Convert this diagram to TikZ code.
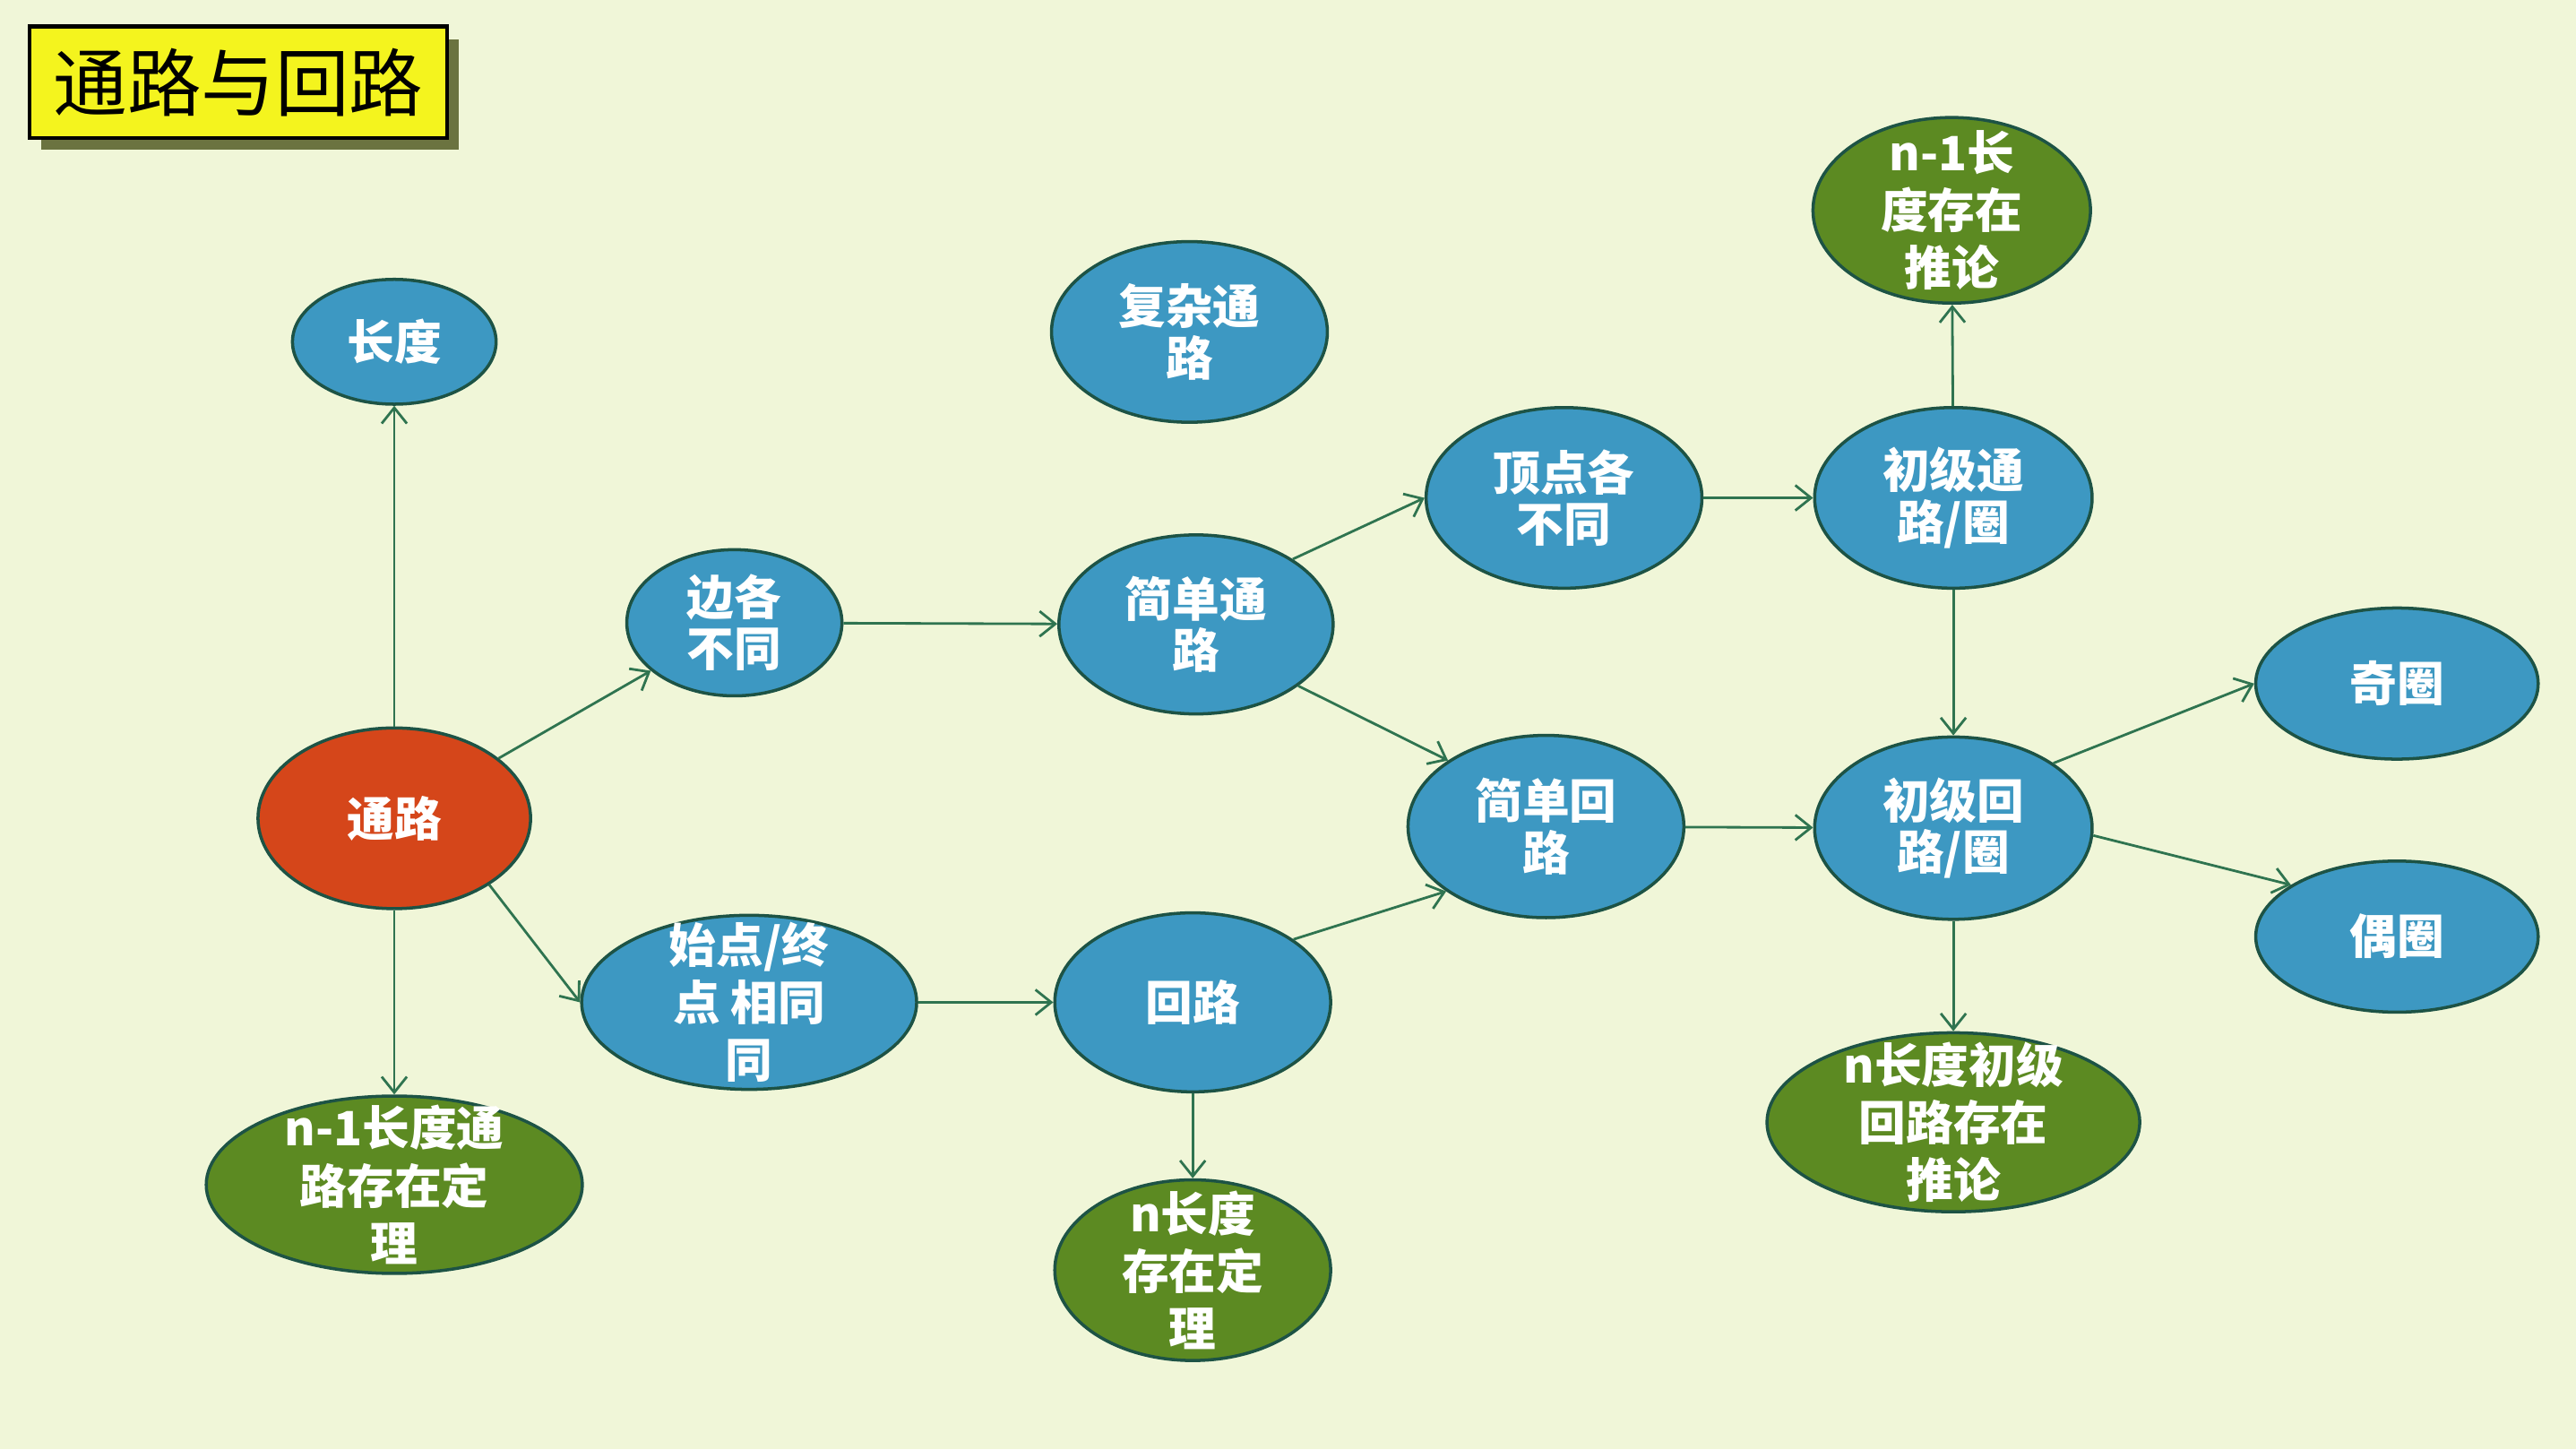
\documentclass[tikz,border=0pt]{standalone}
\usepackage{fontspec}
\newfontfamily\cjk{Noto Sans CJK SC}
\usetikzlibrary{shapes.geometric,arrows.meta}
\definecolor{bgc}{HTML}{F0F6D8}
\definecolor{bluec}{HTML}{3D98C2}
\definecolor{greenc}{HTML}{5C8A22}
\definecolor{orangec}{HTML}{D5461A}
\definecolor{linec}{HTML}{1D5345}
\definecolor{arrc}{HTML}{2F7450}
\definecolor{titley}{HTML}{F4F41E}
\definecolor{titles}{HTML}{6B7340}
\begin{document}
\begin{tikzpicture}[x=0.018335cm,y=-0.018335cm,
  nd/.style={ellipse, draw=linec, line width=1pt, inner sep=0pt},
  el/.style 2 args={minimum width=#1*0.5216pt, minimum height=#2*0.5216pt},
  bluen/.style={nd, fill=bluec},
  greenn/.style={nd, fill=greenc},
  orangen/.style={nd, fill=orangec},
  txt/.style={text=white, font=\cjk\bfseries\fontsize{15}{16.3}\selectfont, align=center, inner sep=0pt},
  txtc/.style={text=white, font=\cjk\bfseries\fontsize{15}{18.3}\selectfont, align=center, inner sep=0pt},
  arr/.style={draw=arrc, line width=0.8pt, -{Straight Barb[length=5pt,width=8pt]}}
]
\fill[bgc] (0,0) rectangle (1568,882);
\useasboundingbox (0,0) rectangle (1568,882);

% title
\fill[titles] (25,24) rectangle (279,91);
\node[draw=black, line width=1.2pt, fill=titley, anchor=north west, inner sep=0pt,
  minimum width=254*0.5216pt, minimum height=68*0.5216pt,
  font=\cjk\fontsize{23.5}{24}\selectfont] (title) at (17,15) {通路与回路};

% nodes
\node[bluen, el={124}{76}, label={[txt]center:长度}] (len) at (240,208) {};
\node[bluen, el={168}{110}, label={[txt]center:{复杂通\\路}}] (fz) at (724,202) {};
\node[greenn, el={169}{113}, label={[txtc]center:{n-1长\\度存在\\推论}}] (tl1) at (1188,128) {};
\node[bluen, el={131}{89}, label={[txt]center:{边各\\不同}}] (bg) at (447,379) {};
\node[orangen, el={166}{110}, label={[txt]center:通路}] (tl) at (240,498) {};
\node[bluen, el={204}{106}, label={[txtc]center:{始点/终\\点 相同\\同}}] (sz) at (456,610) {};
\node[greenn, el={229}{108}, label={[txtc]center:{n-1长度通\\路存在定\\理}}] (th1) at (240,721) {};
\node[bluen, el={167}{109}, label={[txt]center:{简单通\\路}}] (jd) at (728,380) {};
\node[bluen, el={168}{109}, label={[txt]center:回路}] (hl) at (726,610) {};
\node[greenn, el={168}{110}, label={[txtc]center:{n长度\\存在定\\理}}] (th2) at (726,773) {};
\node[bluen, el={168}{110}, label={[txt]center:{顶点各\\不同}}] (dd) at (952,303) {};
\node[bluen, el={168}{111}, label={[txt]center:{简单回\\路}}] (jh) at (941,503) {};
\node[bluen, el={169}{110}, label={[txt]center:{初级通\\路/圈}}] (cj1) at (1189,303) {};
\node[bluen, el={169}{111}, label={[txt]center:{初级回\\路/圈}}] (cj2) at (1189,504) {};
\node[bluen, el={172}{92}, label={[txt]center:奇圈}] (odd) at (1459,416) {};
\node[bluen, el={172}{92}, label={[txt]center:偶圈}] (even) at (1459,570) {};
\node[greenn, el={227}{109}, label={[txtc]center:{n长度初级\\回路存在\\推论}}] (tl2) at (1189,683) {};

% connectors
\draw[arr] (tl) -- (len);
\draw[arr] (tl) -- (bg);
\draw[arr] (tl.-35) -- (sz.west);
\draw[arr] (tl) -- (th1);
\draw[arr] (bg) -- (jd);
\draw[arr] (sz) -- (hl);
\draw[arr] (jd.34) -- (dd.west);
\draw[arr] (jd.-31) -- (jh.146);
\draw[arr] (hl.32) -- (jh.213);
\draw[arr] (hl) -- (th2);
\draw[arr] (dd) -- (cj1);
\draw[arr] (jh) -- (cj2);
\draw[arr] (cj1) -- (tl1);
\draw[arr] (cj1) -- (cj2);
\draw[arr] (cj2.33) -- (odd.west);
\draw[arr] (cj2.-3) -- (even.154);
\draw[arr] (cj2) -- (tl2);
\end{tikzpicture}
\end{document}
